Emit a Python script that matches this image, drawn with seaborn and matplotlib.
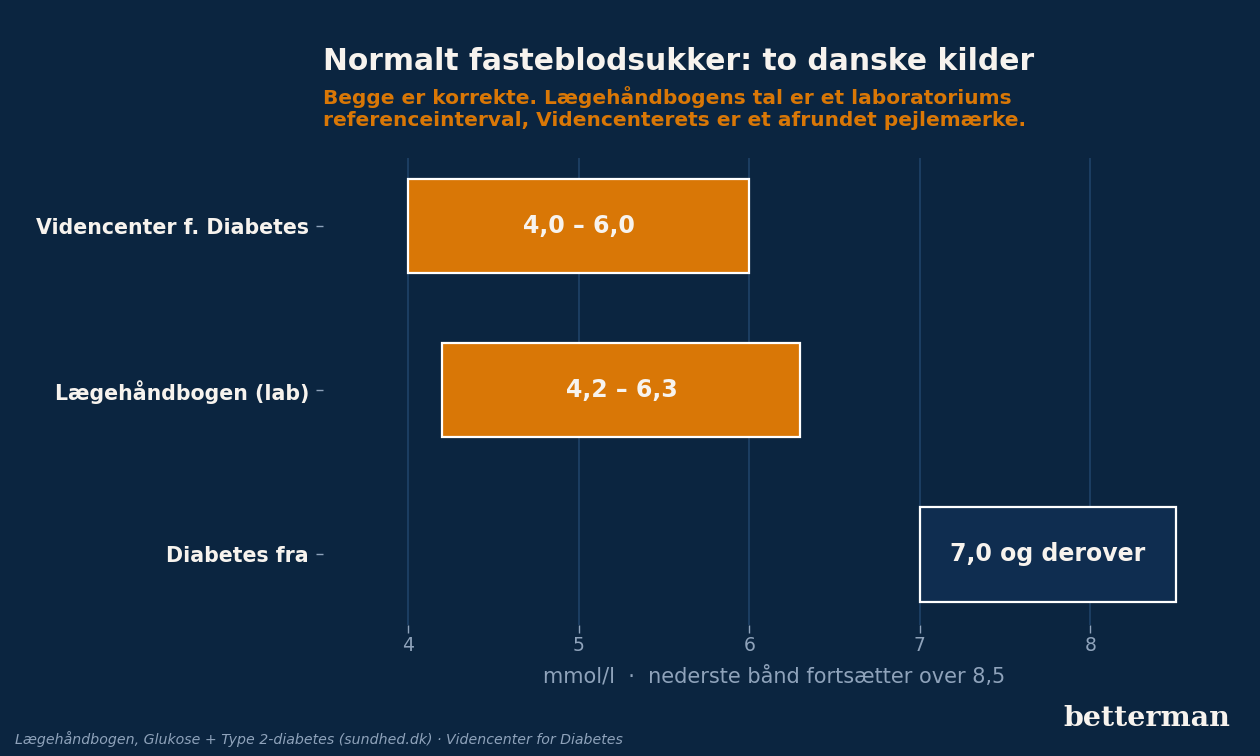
import matplotlib
matplotlib.use("Agg")
import matplotlib.pyplot as plt
import seaborn as sns
import pandas as pd

# data
sources = ["Videncenter f. Diabetes", "Lægehåndbogen (lab)", "Diabetes fra"]
low = [4.0, 4.2, 7.0]
high = [6.0, 6.3, 8.5]
bar_labels = ["4,0 – 6,0", "4,2 – 6,3", "7,0 og derover"]
ticks = [4, 5, 6, 7, 8]

BG = "#0b2540"
ORANGE = "#d97706"
NAVY = "#0f2d50"
GRID = "#1f4268"
TXT = "#f7f3ee"
MUTED = "#8fa3bb"

df = pd.DataFrame({"source": sources, "low": low, "high": high})
df["span"] = df["high"] - df["low"]

sns.set_theme(style="dark")
plt.rcParams["font.family"] = ["DejaVu Sans"]
plt.rcParams["xtick.bottom"] = True
plt.rcParams["ytick.left"] = True

fig = plt.figure(figsize=(12.6, 7.56), dpi=100, facecolor=BG)
ax = fig.add_axes([323 / 1260, 1 - 625 / 756, (1225 - 323) / 1260, (625 - 158) / 756])
ax.set_facecolor(BG)

sns.barplot(data=df, x="span", y="source", left=df["low"], orient="h",
            width=0.575, color=ORANGE, saturation=1, edgecolor="white",
            linewidth=1.6, ax=ax)

for patch, src in zip(ax.patches, sources):
    if src == "Diabetes fra":
        patch.set_facecolor(NAVY)

for i, (lo, hi, lab) in enumerate(zip(low, high, bar_labels)):
    ax.text((lo + hi) / 2, i, lab, ha="center", va="center", color=TXT,
            fontsize=17, fontweight="bold")

ax.set_xlim(3.5, 8.79)
ax.set_ylim(2.43, -0.415)
ax.set_xticks(ticks)
ax.set_xticklabels([str(t) for t in ticks])
ax.grid(axis="x", color=GRID, linewidth=1.2)
ax.grid(axis="y", visible=False)
ax.set_axisbelow(True)
for s in ax.spines.values():
    s.set_visible(False)
ax.tick_params(axis="x", bottom=True, colors=MUTED, labelsize=13.5, length=6,
               width=1, pad=2)
ax.tick_params(axis="y", left=True, colors=MUTED, length=5, width=1, pad=5)
for t in ax.get_yticklabels():
    t.set_color(TXT)
    t.set_fontsize(14.8)
    t.set_fontweight("bold")
ax.tick_params(axis="x", labelcolor=MUTED)
ax.set_ylabel("")
ax.set_xlabel("mmol/l  ·  nederste bånd fortsætter over 8,5", color=MUTED,
              fontsize=15, labelpad=8)

fig.text(323 / 1260, 1 - 62 / 756, "Normalt fasteblodsukker: to danske kilder",
         color=TXT, fontsize=21.4, fontweight="bold", va="center", ha="left")
fig.text(323 / 1260, 1 - 108 / 756,
         "Begge er korrekte. Lægehåndbogens tal er et laboratoriums\n"
         "referenceinterval, Videncenterets er et afrundet pejlemærke.",
         color=ORANGE, fontsize=14.5, fontweight="bold", va="center", ha="left",
         linespacing=1.25)
fig.text(15 / 1260, 1 - 739 / 756,
         "Lægehåndbogen, Glukose + Type 2-diabetes (sundhed.dk) · Videncenter for Diabetes",
         color=MUTED, fontsize=10.2, style="italic", va="center", ha="left")
fig.text(1230 / 1260, 1 - 718 / 756, "betterman", color=TXT, fontsize=20.5,
         fontweight="heavy", family="DejaVu Serif", va="center", ha="right")

fig.savefig("out.png", dpi=100, facecolor=BG)
